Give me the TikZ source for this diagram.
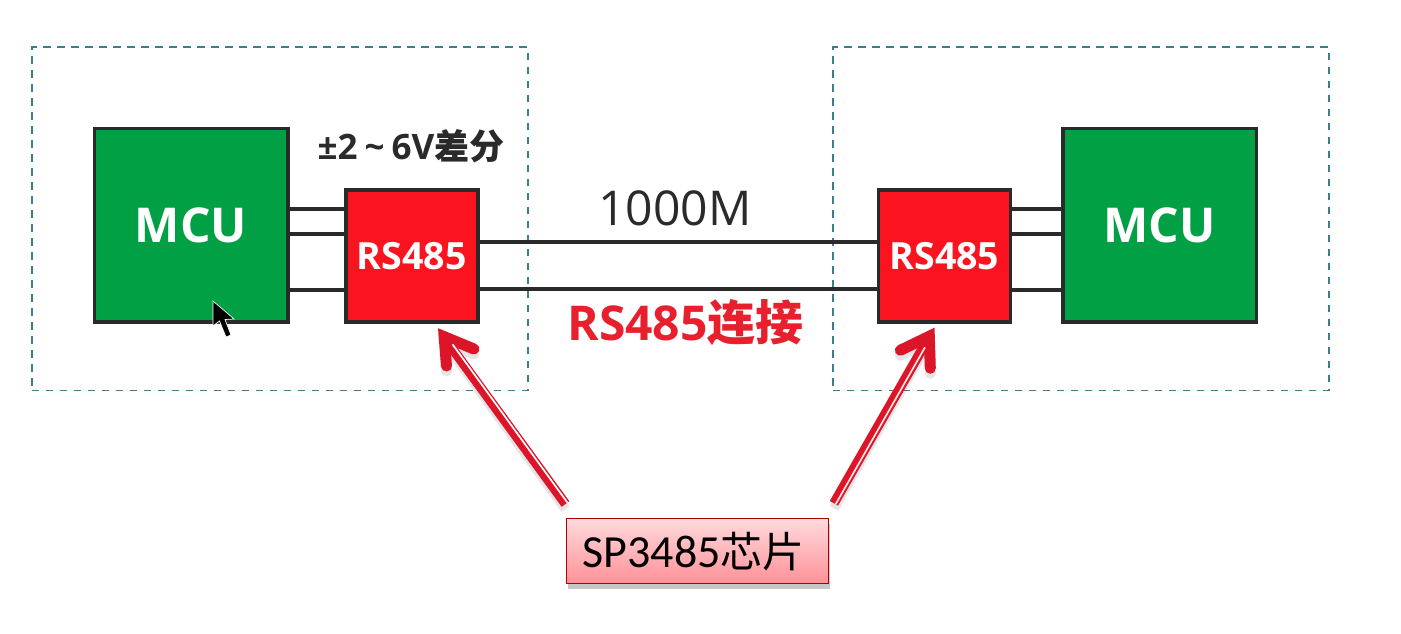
\documentclass[tikz,border=0pt]{standalone}
\usepackage{fontspec}
\setmainfont{Open Sans}
\newfontfamily\cjk{Noto Sans CJK SC}
\newfontfamily\cjkb{Noto Sans CJK SC Bold}
\newfontfamily\carl{Carlito}
\usetikzlibrary{shadows,calc}
\definecolor{dashc}{HTML}{3A7F8E}
\definecolor{mcug}{HTML}{02A045}
\definecolor{rsred}{HTML}{FB1320}
\definecolor{edge}{HTML}{2A2A2A}
\definecolor{arrowred}{HTML}{DD1528}
\definecolor{textred}{HTML}{E8202E}
\definecolor{calltop}{HTML}{FFDADC}
\definecolor{callbot}{HTML}{FF9198}
\tikzset{
  dashbox/.style={draw=dashc,line width=1.9pt,dash pattern=on 7.5pt off 6.5pt,anchor=north west,inner sep=0pt,minimum width=496pt,minimum height=343pt},
  mcubox/.style={draw=edge,line width=3.5pt,fill=mcug,text=white,anchor=north west,inner sep=0pt,minimum width=193.5pt,minimum height=193.5pt,font=\fontsize{48}{48}\selectfont\bfseries},
  rsbox/.style={draw=edge,line width=3.5pt,fill=rsred,text=white,anchor=north west,inner sep=0pt,minimum width=132pt,minimum height=132pt,font=\fontsize{37.5}{38}\selectfont\bfseries},
  wire/.style={draw=edge,line width=3.2pt},
  shaftline/.style={draw=arrowred,line width=9.5pt},
  slit/.style={draw=white,line width=1.7pt},
  headline/.style={draw=arrowred,line width=11pt,line cap=round,line join=miter},
  shade/.style={draw=black,opacity=.10},
  callout/.style={draw=red!70!black,line width=1.2pt,top color=calltop,bottom color=callbot,anchor=north west,inner sep=0pt,minimum width=262pt,minimum height=65pt,drop shadow={shadow xshift=1pt,shadow yshift=-5pt,opacity=.45}},
}
\begin{document}
\begin{tikzpicture}[x=1pt,y=-1pt]
\useasboundingbox (0,0) rectangle (1401,634);
\node[dashbox] (lgroup) at (31,46.5) {};
\node[dashbox] (rgroup) at (832,46.5) {};

\node[mcubox] (lmcu) at (92.5,126.7) {MCU};
\node[rsbox] (lrs) at (344,188.3) {RS485};
\node[rsbox] (rrs) at (876.7,188.3) {RS485};
\node[mcubox] (rmcu) at (1061,126.7) {MCU};

\foreach \yy in {209,234,290}{
  \draw[wire] (lmcu.east |- 0,\yy) -- (lrs.west |- 0,\yy);
  \draw[wire] (rrs.east |- 0,\yy) -- (rmcu.west |- 0,\yy);
}
\draw[wire] (lrs.east |- 0,242) -- (rrs.west |- 0,242);
\draw[wire] (lrs.east |- 0,289) -- (rrs.west |- 0,289);

\node[font=\fontsize{35}{35}\selectfont\bfseries,text=edge,inner sep=0pt] (vlabel) at (411,146) {±2\kern7pt\textasciitilde\kern7pt 6V{\cjkb 差分}};
\node[font=\fontsize{48}{48}\selectfont,text=edge,inner sep=0pt] (len) at (675,208) {1000M};
\node[font=\fontsize{48}{48}\selectfont\bfseries,text=textred,inner sep=0pt] (conn) at (685.5,323) {RS485{\cjkb 连接}};

\node[callout] (chip) at (566,518) {\hspace*{-8pt}\fontsize{46}{46}\selectfont\carl SP3485{\cjk\fontsize{42}{42}\selectfont 芯片}};

\coordinate (ls) at ($(chip.north west)+(-0.5,-14)$);
\coordinate (rs) at ($(chip.north east)+(4.7,-14.7)$);
\coordinate (lt) at (438,328);
\coordinate (rt) at (934.3,327.3);

% left arrow
\draw[shade,line width=10pt] ($(ls)+(0,5)$) -- ($(lt)+(13,23)$);
\draw[shade,line width=11pt,line cap=round,line join=miter] ($(lt)+(36,26)$) -- ($(lt)+(6.2,13.7)$) -- ($(lt)+(8.5,43)$);
\draw[shaftline] (ls) -- ($(lt)+(11,16)$);
\draw[headline] ($(lt)+(36,21)$) -- ($(lt)+(6.2,8.7)$) -- ($(lt)+(8.5,38)$);
\draw[slit] ($(ls)+(1.9,-1.4)$) -- ($(lt)+(14.6,16.4)$);

% right arrow
\draw[shade,line width=10pt] ($(rs)+(0,5)$) -- ($(rt)+(-11,24)$);
\draw[shade,line width=11pt,line cap=round,line join=miter] ($(rt)+(-34,28)$) -- ($(rt)+(-5,14)$) -- ($(rt)+(-4,46)$);
\draw[shaftline] (rs) -- ($(rt)+(-10,18)$);
\draw[headline] ($(rt)+(-34,23)$) -- ($(rt)+(-5,9)$) -- ($(rt)+(-4,41)$);
\draw[slit,draw=red!10] ($(rs)+(1.7,1)$) -- ($(rt)+(-9.3,20)$);

% mouse pointer
\fill[black,draw=white,line width=.7pt] (213,301) -- (213,326) -- (219.5,321) -- (226,337) -- (231,335) -- (225,319.5) -- (234,319) -- cycle;
\end{tikzpicture}
\end{document}
